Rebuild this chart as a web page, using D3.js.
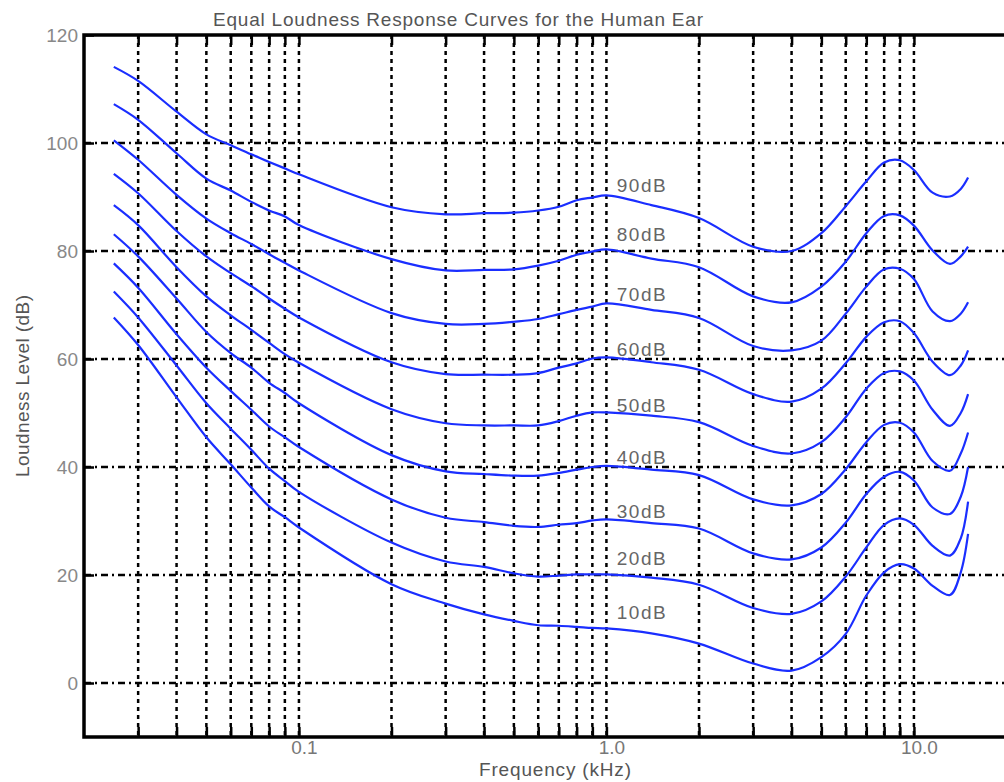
<!DOCTYPE html>
<meta charset="utf-8">
<script src="https://d3js.org/d3.v7.min.js"></script>
<style>
  body { margin: 0; background: #fff; }
  svg text { font-family: "Liberation Sans", Arial, sans-serif; }
</style>
<div id="chart"></div>
<script>

// frequencies (kHz) the curves are read at
var freqs = [0.025, 0.03, 0.04, 0.05, 0.06, 0.07, 0.08, 0.09, 0.1, 0.2, 0.3, 0.4, 0.5, 0.6, 0.7, 0.8, 0.9,
             1.0, 1.4, 2.0, 3.0, 4.0, 5.0, 6.0, 7.0, 8.0, 9.0, 10.0, 11.5, 13.1, 14.2, 15.0];

// loudness level (dB) of each equal loudness curve
var curve90 = [114.1, 111.5, 105.8, 101.6, 99.6, 97.9, 96.5, 95.3, 94.2, 88.1, 86.8, 87.0, 87.1, 87.5, 88.2, 89.4, 89.9,
               90.3, 88.5, 86.1, 80.8, 80.0, 83.3, 88.3, 92.9, 96.4, 96.8, 95.0, 90.8, 90.1, 91.5, 93.6];
var curve80 = [107.2, 104.3, 98.1, 93.4, 91.2, 89.1, 87.5, 86.4, 84.8, 78.5, 76.4, 76.5, 76.6, 77.3, 78.2, 79.3, 79.9,
               80.3, 78.6, 77.0, 71.6, 70.5, 73.4, 78.0, 83.3, 86.5, 86.6, 84.7, 80.1, 77.6, 79.0, 80.8];
var curve70 = [100.5, 96.9, 90.4, 86.0, 83.3, 81.3, 79.4, 77.8, 76.4, 68.5, 66.5, 66.5, 66.9, 67.4, 68.3, 69.1, 69.7,
               70.3, 69.1, 67.6, 62.4, 61.6, 63.4, 68.4, 73.4, 76.6, 76.7, 74.8, 68.8, 67.0, 68.4, 70.5];
var curve60 = [94.3, 90.7, 83.7, 79.0, 75.9, 73.5, 71.2, 69.3, 67.7, 59.4, 57.2, 57.1, 57.1, 57.4, 58.4, 59.2, 60.1,
               60.3, 59.4, 58.0, 53.5, 52.1, 54.5, 59.2, 64.1, 66.8, 67.0, 64.8, 59.5, 57.0, 58.8, 61.6];
var curve50 = [88.5, 84.8, 77.0, 71.6, 68.1, 65.4, 63.0, 60.9, 59.3, 50.7, 48.1, 47.7, 47.7, 47.7, 48.5, 49.5, 50.1,
               50.1, 49.5, 48.3, 43.9, 42.5, 44.6, 49.2, 54.5, 57.4, 57.7, 56.0, 50.6, 47.6, 50.0, 53.5];
var curve40 = [83.1, 79.0, 71.2, 65.0, 61.1, 58.4, 55.6, 53.7, 51.8, 42.2, 39.2, 38.7, 38.4, 38.4, 38.9, 39.5, 40.0,
               40.2, 39.5, 38.5, 34.0, 32.9, 35.0, 39.6, 44.6, 47.8, 48.2, 46.4, 41.1, 39.3, 42.5, 46.4];
var curve30 = [77.7, 73.2, 64.6, 58.4, 54.1, 50.6, 47.5, 45.5, 43.7, 34.0, 30.6, 29.8, 29.1, 28.9, 29.3, 29.6, 30.1,
               30.3, 29.6, 28.6, 24.0, 22.9, 25.1, 29.7, 35.0, 38.2, 39.1, 37.5, 32.5, 31.3, 34.5, 40.0];
var curve20 = [72.5, 67.7, 58.8, 51.8, 47.1, 43.2, 39.7, 37.4, 35.4, 26.0, 22.5, 21.5, 20.3, 19.7, 19.9, 20.1, 20.1,
               20.1, 19.5, 18.2, 13.9, 12.8, 15.1, 19.7, 25.1, 29.3, 30.5, 29.3, 25.4, 23.6, 26.8, 33.6];
var curve10 = [67.7, 62.6, 52.9, 45.5, 40.5, 36.2, 32.7, 30.7, 28.8, 18.3, 14.7, 12.7, 11.5, 10.7, 10.6, 10.4, 10.2,
               10.1, 9.2, 7.3, 3.6, 2.3, 4.8, 9.1, 16.2, 20.5, 22.0, 21.2, 18.0, 16.3, 20.5, 27.6];

var curveNames = ["90dB", "80dB", "70dB", "60dB", "50dB", "40dB", "30dB", "20dB", "10dB"];
// level (dB) where each curve name sits, and its frequency (kHz)
var nameLevels = [92.2, 83.0, 71.9, 61.7, 51.5, 41.7, 31.7, 23.1, 13.0];
var nameFreq = 1.08;

var xMajor = [0.1, 1, 10];
var xMajorText = ["0.1", "1.0", "10.0"];
var xMinor = [0.03, 0.04, 0.05, 0.06, 0.07, 0.08, 0.09,
              0.2, 0.3, 0.4, 0.5, 0.6, 0.7, 0.8, 0.9,
              2, 3, 4, 5, 6, 7, 8, 9];
var yTicks = [0, 20, 40, 60, 80, 100, 120];

var curves = [curve90, curve80, curve70, curve60, curve50, curve40, curve30, curve20, curve10];

var width = 1004, height = 782;
var margin = {top: 35, left: 84, bottom: 737, right: 1006.5};

var svg = d3.select("#chart")
  .append("svg")
    .attr("width", width)
    .attr("height", height);

var x = d3.scaleLog()
  .domain([0.02, 20])
  .range([margin.left, margin.right]);

var y = d3.scaleLinear()
  .domain([-10, 120])
  .range([margin.bottom, margin.top]);

var allX = xMinor.concat(xMajor);

// vertical grid
svg.append("g")
  .selectAll("line")
  .data(allX)
  .enter()
  .append("line")
    .attr("x1", function(d) { return x(d); })
    .attr("x2", function(d) { return x(d); })
    .attr("y1", margin.top)
    .attr("y2", margin.bottom)
    .attr("stroke", "#000")
    .attr("stroke-width", 2.5)
    .attr("stroke-dasharray", "4,4");

// horizontal grid
svg.append("g")
  .selectAll("line")
  .data(yTicks.filter(function(d) { return d < 120; }))
  .enter()
  .append("line")
    .attr("x1", margin.left)
    .attr("x2", width)
    .attr("y1", function(d) { return y(d); })
    .attr("y2", function(d) { return y(d); })
    .attr("stroke", "#000")
    .attr("stroke-width", 2.5)
    .attr("stroke-dasharray", "7,4,2,4");

// bottom axis, ticks inward
var xAxis = d3.axisBottom(x)
  .tickValues(allX)
  .tickSize(-10)
  .tickPadding(3)
  .tickFormat(function(d) {
    var i = xMajor.indexOf(d);
    return i >= 0 ? xMajorText[i] : "";
  });

var gx = svg.append("g")
  .attr("transform", "translate(0," + margin.bottom + ")")
  .call(xAxis);
gx.select(".domain").remove();
gx.selectAll(".tick line").attr("stroke", "#000").attr("stroke-width", 2.5);
gx.selectAll(".tick text")
  .attr("fill", "#777")
  .attr("font-size", 19)
  .attr("dx", 5);

// top ticks
var gt = svg.append("g")
  .attr("transform", "translate(0," + margin.top + ")")
  .call(d3.axisTop(x).tickValues(allX).tickSize(-10).tickFormat(""));
gt.select(".domain").remove();
gt.selectAll(".tick line").attr("stroke", "#000").attr("stroke-width", 2.5);

// left axis
var gy = svg.append("g")
  .attr("transform", "translate(" + margin.left + ",0)")
  .call(d3.axisLeft(y).tickValues(yTicks).tickSize(-10).tickPadding(6).tickFormat(d3.format("d")));
gy.select(".domain").remove();
gy.selectAll(".tick line").attr("stroke", "#000").attr("stroke-width", 2.5);
gy.selectAll(".tick text")
  .attr("fill", "#888")
  .attr("font-size", 19);

// frame
svg.append("path")
  .attr("d", "M" + width + "," + margin.top + "H" + margin.left + "V" + margin.bottom + "H" + width)
  .attr("fill", "none")
  .attr("stroke", "#000")
  .attr("stroke-width", 3.5);

// curves
var line = d3.line()
  .x(function(d) { return x(d[0]); })
  .y(function(d) { return y(d[1]); })
  .curve(d3.curveCatmullRom.alpha(0.5));

svg.append("g")
  .selectAll("path")
  .data(curves)
  .enter()
  .append("path")
    .attr("fill", "none")
    .attr("stroke", "#1a2eff")
    .attr("stroke-width", 2.2)
    .attr("d", function(c) { return line(freqs.map(function(f, i) { return [f, c[i]]; })); });

// curve names
svg.append("g")
  .selectAll("text")
  .data(curveNames)
  .enter()
  .append("text")
    .attr("x", x(nameFreq))
    .attr("y", function(d, i) { return y(nameLevels[i]); })
    .attr("dy", "0.35em")
    .attr("font-size", 19)
    .attr("fill", "#666")
    .attr("textLength", 49)
    .text(function(d) { return d; });

// title and axis labels
svg.append("text")
  .attr("x", 458)
  .attr("y", 26)
  .attr("text-anchor", "middle")
  .attr("font-size", 19)
  .attr("fill", "#555")
  .attr("textLength", 490)
  .text("Equal Loudness Response Curves for the Human Ear");

svg.append("text")
  .attr("x", 555)
  .attr("y", 776)
  .attr("text-anchor", "middle")
  .attr("font-size", 19)
  .attr("fill", "#555")
  .attr("textLength", 152)
  .text("Frequency (kHz)");

svg.append("text")
  .attr("transform", "translate(29," + y(55) + ") rotate(-90)")
  .attr("text-anchor", "middle")
  .attr("font-size", 19)
  .attr("fill", "#555")
  .attr("textLength", 182)
  .text("Loudness Level (dB)");

</script>
